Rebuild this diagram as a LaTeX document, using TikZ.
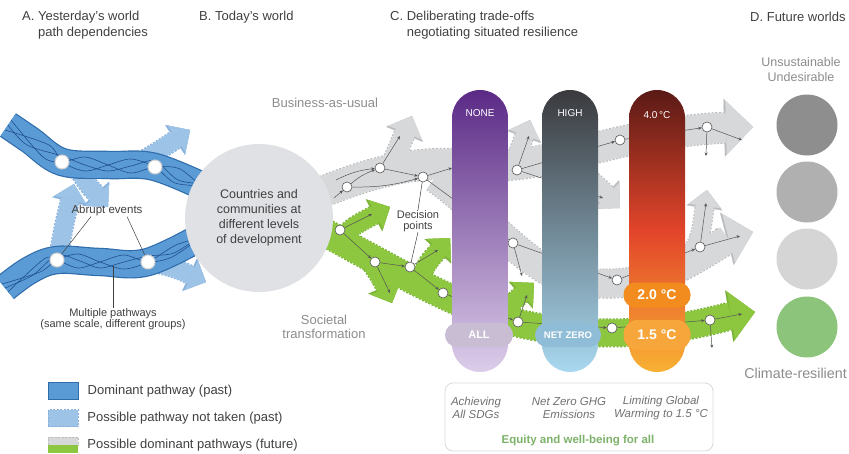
\documentclass[tikz,border=0pt]{standalone}
\usepackage{fontspec}
\setmainfont{Liberation Sans}
\usetikzlibrary{arrows.meta, positioning}

\definecolor{ink}{HTML}{404040}
\definecolor{fog}{HTML}{8C8C8C}
\definecolor{todaygray}{HTML}{E0E1E4}
\definecolor{blueband}{HTML}{5B9BD5}
\definecolor{blueedge}{HTML}{2E6CAB}
\definecolor{weaveblue}{HTML}{1F4F8F}
\definecolor{bluelite}{HTML}{9DC3E6}
\definecolor{blueliteedge}{HTML}{86B0DD}
\definecolor{grayband}{HTML}{D7D8DA}
\definecolor{grayedge}{HTML}{B9BBBE}
\definecolor{greenband}{HTML}{8DC63F}
\definecolor{greenedge}{HTML}{79B236}
\definecolor{dpline}{HTML}{555555}
\definecolor{evline}{HTML}{D0D0D0}
\definecolor{purtop}{HTML}{5B2A86}
\definecolor{purbot}{HTML}{DCCDEA}
\definecolor{ghgtop}{HTML}{3A3A3D}
\definecolor{ghgbot}{HTML}{A8D8F0}
\definecolor{heattop}{HTML}{5A1A16}
\definecolor{heatmid}{HTML}{E2452A}
\definecolor{heatbot}{HTML}{F8B133}
\definecolor{allpill}{HTML}{C9BDD4}
\definecolor{nzpill}{HTML}{8FBCD7}
\definecolor{twopill}{HTML}{F28C1E}
\definecolor{onepill}{HTML}{F7A63B}
\definecolor{boxline}{HTML}{D9D9D9}
\definecolor{boxgray}{HTML}{707070}
\definecolor{equity}{HTML}{7DB26A}
\definecolor{wa}{HTML}{8E8E8E}
\definecolor{wb}{HTML}{B0B0B0}
\definecolor{wc}{HTML}{D5D5D5}
\definecolor{wd}{HTML}{8CC47C}

\tikzstyle{ttl} = [anchor=west, align=left, inner sep=0pt, text=ink, font=\fontsize{13}{16}\selectfont]
\tikzstyle{note} = [align=center, inner sep=0pt, text=ink, font=\fontsize{11}{11.5}\selectfont]
\tikzstyle{faint} = [align=center, inner sep=0pt, text=fog, font=\fontsize{13}{14}\selectfont]
\tikzstyle{barnode} = [rounded corners=28pt, minimum width=56pt, minimum height=282pt, inner sep=0pt]
\tikzstyle{pill} = [rounded corners=12pt, minimum height=24pt, inner sep=0pt, text=white, font=\bfseries\fontsize{9.5}{11}\selectfont]
\tikzstyle{bartop} = [text=white, inner sep=0pt, font=\fontsize{10}{12}\selectfont]
\tikzstyle{world} = [circle, minimum size=61pt, inner sep=0pt]
\tikzstyle{dp} = [circle, draw=dpline, fill=white, line width=0.6pt, minimum size=10pt, inner sep=0pt]
\tikzstyle{ev} = [circle, draw=evline, fill=white, line width=1pt, minimum size=14pt, inner sep=0pt]
\tikzstyle{flow} = [draw=dpline, line width=0.5pt, -{Stealth[length=3.5pt, width=3pt]}]
\tikzstyle{pointer} = [draw=ink, line width=0.5pt]
\tikzstyle{weave} = [draw=weaveblue, line width=0.6pt]
\tikzstyle{fattip} = [-{Triangle[length=0pt 0.9, width=0pt 1.8, line width=0.1pt]}]
\tikzstyle{dashedge} = [dash pattern=on 2pt off 1.5pt, fattip]
\tikzstyle{swatch} = [minimum width=30pt, minimum height=17pt, inner sep=0pt]
\tikzstyle{legtext} = [anchor=west, inner sep=0pt, text=ink, font=\fontsize{13}{15}\selectfont]
\tikzstyle{boxtext} = [align=center, inner sep=0pt, text=boxgray, font=\itshape\fontsize{11.5}{13}\selectfont]

\begin{document}
\begin{tikzpicture}[x=1pt, y=-1pt]
\useasboundingbox (0,0) rectangle (849,453);

% paths of the fat arrows
\def\bA{(140,162) .. controls (160,150) .. (190,130)}
\def\bB{(75,165) .. controls (88,185) .. (108,207)}
\def\bC{(58,258) .. controls (64,225) .. (74,184)}
\def\bD{(150,262) .. controls (175,268) .. (206,282)}
\def\gA{(315,195) .. controls (375,170) and (420,160) .. (470,165) .. controls (530,170) and (580,150) .. (630,140) .. controls (680,130) and (715,128) .. (753,127)}
\def\gB{(435,178) .. controls (480,210) and (510,250) .. (550,272) .. controls (590,292) and (650,285) .. (690,262) .. controls (715,248) and (730,238) .. (753,232)}
\def\gUa{(388,172) .. controls (398,150) .. (412,116)}
\def\gUb{(512,168) .. controls (520,148) .. (530,120)}
\def\gDn{(555,160) .. controls (585,175) .. (620,208)}
\def\gUc{(685,262) .. controls (700,240) .. (707,190)}
\def\rA{(320,230) .. controls (380,262) and (440,298) .. (500,318) .. controls (545,333) and (620,338) .. (680,327) .. controls (710,322) and (730,316) .. (755,312)}
\def\rB{(338,240) .. controls (355,225) .. (390,207)}
\def\rC{(370,262) .. controls (382,280) .. (392,303)}
\def\rD{(418,282) .. controls (428,262) .. (450,238)}
\def\rE{(500,320) .. controls (512,303) .. (534,283)}

% past: pathways not taken, then dominant pathways
\foreach \p in {\bA, \bB, \bC, \bD}
  \draw[dashedge, draw=blueliteedge, line width=20pt] \p;
\foreach \p in {\bA, \bB, \bC, \bD}
  \draw[fattip, draw=bluelite, line width=18pt] \p;

\draw[blueedge, line width=1.2pt, double=blueband, double distance=26pt]
  plot[smooth, tension=0.6] coordinates {(8,125) (30,140) (62,162) (108,165) (155,167) (215,192)};
\draw[blueedge, line width=1.2pt, double=blueband, double distance=26pt]
  plot[smooth, tension=0.6] coordinates {(5,288) (30,270) (57,260) (100,262) (148,262) (210,232)};
\draw[weave] plot[smooth] coordinates {(5,130) (49,145) (62,162) (85,171) (108,165) (131,159) (155,167) (175,183) (205,186)};
\draw[weave] plot[smooth] coordinates {(11,120) (43,157) (62,162) (85,157) (108,165) (131,173) (155,167) (180,169) (205,190)};
\draw[weave] plot[smooth] coordinates {(8,125) (27,145) (62,156) (85,165) (108,171) (131,166) (155,161) (178,180) (205,184)};
\draw[weave] plot[smooth] coordinates {(8,292) (44,259) (57,260) (78,268) (100,262) (124,255) (148,262) (172,257) (200,238)};
\draw[weave] plot[smooth] coordinates {(2,284) (40,272) (57,260) (78,254) (100,262) (124,269) (148,262) (176,245) (200,238)};
\draw[weave] plot[smooth] coordinates {(5,288) (33,275) (57,255) (80,261) (100,268) (124,262) (148,256) (174,253) (200,236)};

\node[ev] (ba) at (62,162) {};
\node[ev] (bb) at (155,167) {};
\node[ev] (bc) at (57,260) {};
\node[ev] (bd) at (148,262) {};

% future: business-as-usual and societal transformation
\foreach \p/\w in {\gA/30pt, \gB/28pt, \gUa/20pt, \gUb/18pt, \gDn/20pt, \gUc/18pt}
  \draw[dashedge, draw=grayedge, line width=\w+2pt] \p;
\foreach \p/\w in {\gA/30pt, \gB/28pt, \gUa/20pt, \gUb/18pt, \gDn/20pt, \gUc/18pt}
  \draw[fattip, draw=grayband, line width=\w] \p;
\foreach \p/\w in {\rA/27pt, \rB/18pt, \rC/18pt, \rD/18pt, \rE/18pt}
  \draw[dashedge, draw=greenedge, line width=\w+2pt] \p;
\foreach \p/\w in {\rA/27pt, \rB/18pt, \rC/18pt, \rD/18pt, \rE/18pt}
  \draw[fattip, draw=greenband, line width=\w] \p;

\node[circle, fill=todaygray, minimum size=148pt, align=center, text=ink,
  font=\fontsize{12.5}{15}\selectfont] (today) at (259,218)
  {Countries and\\communities at\\different levels\\of development};

% decision points
\node[dp] (ga) at (347,187) {};
\node[dp] (gb) at (380,168) {};
\node[dp] (gc) at (423,177) {};
\node[dp] (gd) at (517,170) {};
\node[dp] (ge) at (620,140) {};
\node[dp] (gf) at (707,127) {};
\node[dp] (gg) at (513,243) {};
\node[dp] (gh) at (617,280) {};
\node[dp] (gi) at (700,247) {};
\node[dp] (ra) at (340,230) {};
\node[dp] (rb) at (375,262) {};
\node[dp] (rc) at (410,267) {};
\node[dp] (rd) at (443,293) {};
\node[dp] (re) at (518,322) {};
\node[dp] (rf) at (612,328) {};
\node[dp] (rg) at (710,320) {};

\coordinate (s1) at (334,198);
\coordinate (s2) at (336,180);
\coordinate (u1) at (400,136);
\coordinate (x1) at (452,168);
\coordinate (u2) at (529,136);
\coordinate (d1) at (603,198);
\coordinate (e1) at (742,140);
\coordinate (e2) at (706,156);
\coordinate (d2) at (522,276);
\coordinate (e3) at (740,236);
\coordinate (u3) at (706,203);
\coordinate (u4) at (372,214);
\coordinate (d4) at (390,293);
\coordinate (u5) at (438,250);
\coordinate (u6) at (527,295);
\coordinate (e4) at (742,314);
\coordinate (d5) at (712,348);

\draw[flow] (s1) -- (ga);
\draw[flow] (s2) to[bend left=10] (gb);
\draw[flow] (ga) to[bend left=10] (gb);
\draw[flow] (ga) to[bend right=8] (gc);
\draw[flow] (gb) -- (gc);
\draw[flow] (gb) -- (u1);
\draw[flow] (gc) -- (x1);
\draw[flow] (gc) -- (gg);
\draw[flow] (gd) -- (u2);
\draw[flow] (gd) -- (ge);
\draw[flow] (gd) -- (d1);
\draw[flow] (ge) -- (gf);
\draw[flow] (gf) -- (e1);
\draw[flow] (gf) -- (e2);
\draw[flow] (gg) -- (gh);
\draw[flow] (gg) -- (d2);
\draw[flow] (gh) -- (gi);
\draw[flow] (gi) -- (e3);
\draw[flow] (gi) -- (u3);
\draw[flow] (ra) -- (rb);
\draw[flow] (ra) -- (u4);
\draw[flow] (rb) -- (rc);
\draw[flow] (rb) -- (d4);
\draw[flow] (rc) -- (rd);
\draw[flow] (rc) -- (u5);
\draw[flow] (rd) -- (re);
\draw[flow] (re) -- (u6);
\draw[flow] (re) -- (rf);
\draw[flow] (rf) -- (rg);
\draw[flow] (rg) -- (e4);
\draw[flow] (rg) -- (d5);

% trade-off bars
\node[barnode, top color=purtop, bottom color=purbot] (sdg) at (480,231) {};
\node[barnode, top color=ghgtop, bottom color=ghgbot] (ghg) at (570,231) {};
\node[barnode, top color=heattop, bottom color=heatbot, middle color=heatmid] (heat) at (657,231) {};
\node[bartop] (none) at (480,113) {NONE};
\node[bartop] (high) at (570,113) {HIGH};
\node[bartop] (four) at (657,115) {4.0\,°C};
\node[pill, fill=allpill, minimum width=68pt, font=\bfseries\fontsize{11}{12}\selectfont] (all) at (479,335) {ALL};
\node[pill, fill=nzpill, minimum width=66pt] (netzero) at (568,335) {NET ZERO};
\node[pill, fill=twopill, minimum width=67pt, minimum height=25pt, font=\bfseries\fontsize{14}{15}\selectfont] (two) at (657,295) {2.0 °C};
\node[pill, fill=onepill, minimum width=67pt, minimum height=30pt, rounded corners=14pt, font=\bfseries\fontsize{14}{15}\selectfont] (one) at (657,335) {1.5 °C};

\node[draw=boxline, line width=0.8pt, rounded corners=8pt, minimum width=268pt, minimum height=68pt] (goals) at (579,417) {};
\node[boxtext] (sdgtxt) at (476,408) {Achieving\\All SDGs};
\node[boxtext] (ghgtxt) at (569,408) {Net Zero GHG\\Emissions};
\node[boxtext] (heattxt) at (661,408) {Limiting Global\\Warming to 1.5 °C};
\node[inner sep=0pt, text=equity, font=\bfseries\fontsize{11.5}{13}\selectfont] (equity) at (578,441) {Equity and well-being for all};

% future worlds
\node[faint, font=\fontsize{12.5}{15}\selectfont] (unsus) at (801,70) {Unsustainable\\Undesirable};
\node[world, fill=wa] (wa) at (807,125) {};
\node[world, fill=wb] (wb) at (807,192) {};
\node[world, fill=wc] (wc) at (807,259) {};
\node[world, fill=wd] (wd) at (807,327) {};
\node[anchor=east, inner sep=0pt, text=fog, font=\fontsize{14.3}{16}\selectfont] (resil) at (847,373) {Climate-resilient};

% labels
\node[ttl] (ta) at (22,25) {A. Yesterday’s world\\\phantom{A. }path dependencies};
\node[ttl] (tb) at (199,17) {B. Today’s world};
\node[ttl] (tc) at (390,25) {C. Deliberating trade-offs\\\phantom{C. }negotiating situated resilience};
\node[ttl] (td) at (750,17) {D. Future worlds};
\node[faint] (bau) at (325,103) {Business-as-usual};
\node[faint] (soc) at (324,327) {Societal\\transformation};
\node[note, font=\fontsize{11.5}{13}\selectfont] (abrupt) at (107,211) {Abrupt events};
\node[note] (multi) at (113,319) {Multiple pathways\\(same scale, different groups)};
\node[note] (decide) at (418,221) {Decision\\points};
\coordinate (strand) at (113,266);
\draw[pointer] ([xshift=-16pt]abrupt.south) -- (bc);
\draw[pointer] ([xshift=20pt]abrupt.south) -- (bd);
\draw[pointer] (multi.north) -- (strand);
\draw[pointer] (decide.north) -- (gc);
\draw[pointer] (decide.south) -- (rc);

% legend
\node[swatch, fill=blueband, draw=blueedge, line width=1pt] (leg1) at (63,391) {};
\node[legtext, right=9pt of leg1] (leg1t) {Dominant pathway (past)};
\node[swatch, fill=bluelite, draw=blueliteedge, dash pattern=on 2pt off 1.5pt] (leg2) at (63,418) {};
\node[legtext, right=9pt of leg2] (leg2t) {Possible pathway not taken (past)};
\node[swatch, minimum height=8pt, fill=grayband, draw=grayedge, dash pattern=on 2pt off 1.5pt] (leg3a) at (63,441) {};
\node[swatch, minimum height=8pt, fill=greenband, below=0pt of leg3a] (leg3b) {};
\node[legtext, right=9pt of leg3a.south east] (leg3t) {Possible dominant pathways (future)};
\end{tikzpicture}
\end{document}
